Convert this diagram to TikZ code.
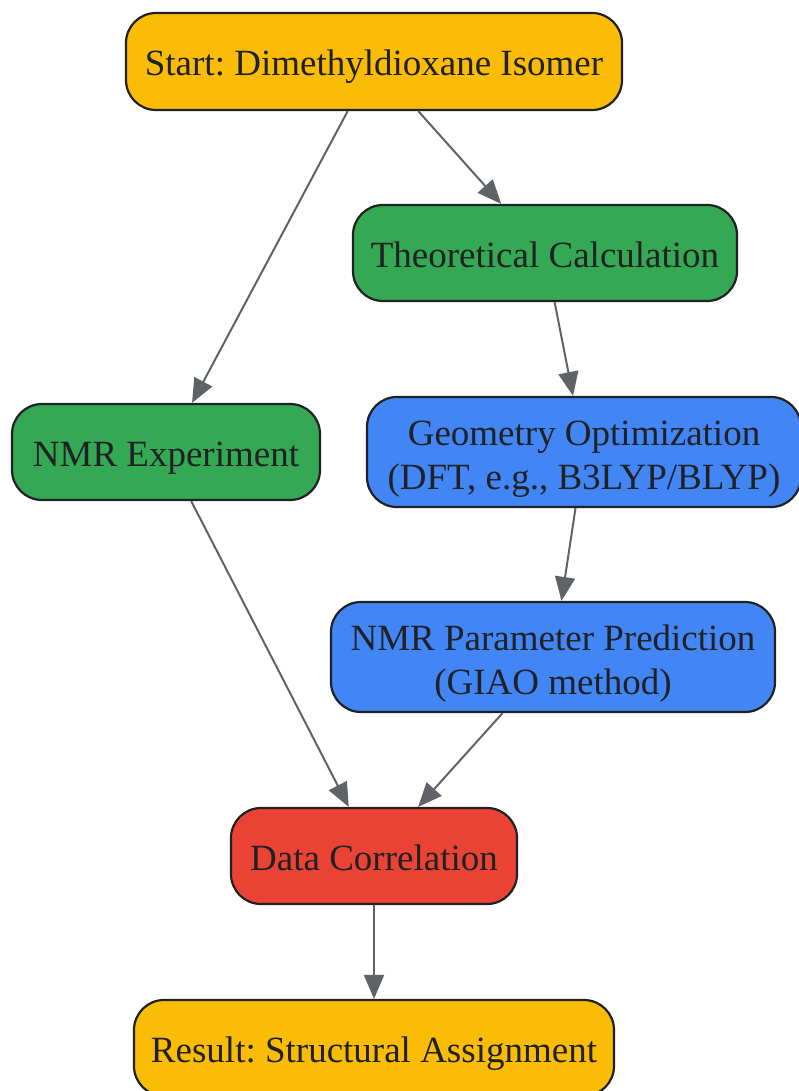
\documentclass[tikz,border=0pt]{standalone}
\usepackage{fontspec}
\setmainfont{Liberation Serif}
\usetikzlibrary{arrows.meta}
\definecolor{cyellow}{HTML}{FBBC05}
\definecolor{cgreen}{HTML}{34A853}
\definecolor{cblue}{HTML}{4285F4}
\definecolor{cred}{HTML}{EA4335}
\definecolor{ctext}{HTML}{202124}
\definecolor{cedge}{HTML}{5F6368}
\frenchspacing
\tikzset{
  box/.style={rectangle, rounded corners=30pt, draw=ctext, line width=2.2pt,
    text=ctext, align=center, inner sep=0pt,
    text height=29pt, text depth=0pt,
    font=\fontsize{37}{44}\selectfont},
  twoline/.style={text height=74pt},
  conn/.style={draw=cedge, line width=2pt,
    -{Triangle[length=24pt,width=20pt]}}
}
\begin{document}
\begin{tikzpicture}[x=1pt,y=-1pt]
\useasboundingbox (0,0) rectangle (799,1091);
\clip (0,0) rectangle (799,1091);
\node[box, fill=cyellow, minimum width=496pt, minimum height=97pt] (start) at (374,61.5) {Start: Dimethyldioxane Isomer};
\node[box, fill=cgreen, minimum width=384pt, minimum height=96pt] (theo) at (545,253) {Theoretical Calculation};
\node[box, fill=cgreen, minimum width=308pt, minimum height=96pt] (nmrexp) at (166,452) {NMR Experiment};
\node[box, twoline, fill=cblue, minimum width=434pt, minimum height=110pt] (geo) at (584,452) {Geometry Optimization\\(DFT, e.g., B3LYP/BLYP)};
\node[box, twoline, fill=cblue, minimum width=444pt, minimum height=110pt] (param) at (553,657) {NMR Parameter Prediction\\(GIAO method)};
\node[box, fill=cred, minimum width=286pt, minimum height=96pt] (data) at (374,856) {Data Correlation};
\node[box, fill=cyellow, minimum width=480pt, minimum height=96pt] (result) at (374,1048) {Result: Structural Assignment};
\draw[conn] (start) -- (theo);
\draw[conn] (start) -- (nmrexp);
\draw[conn] (theo) -- (geo);
\draw[conn] (geo) -- (param);
\draw[conn] (nmrexp) -- (data);
\draw[conn] (param) -- (data);
\draw[conn] (data) -- (result);
\end{tikzpicture}
\end{document}
